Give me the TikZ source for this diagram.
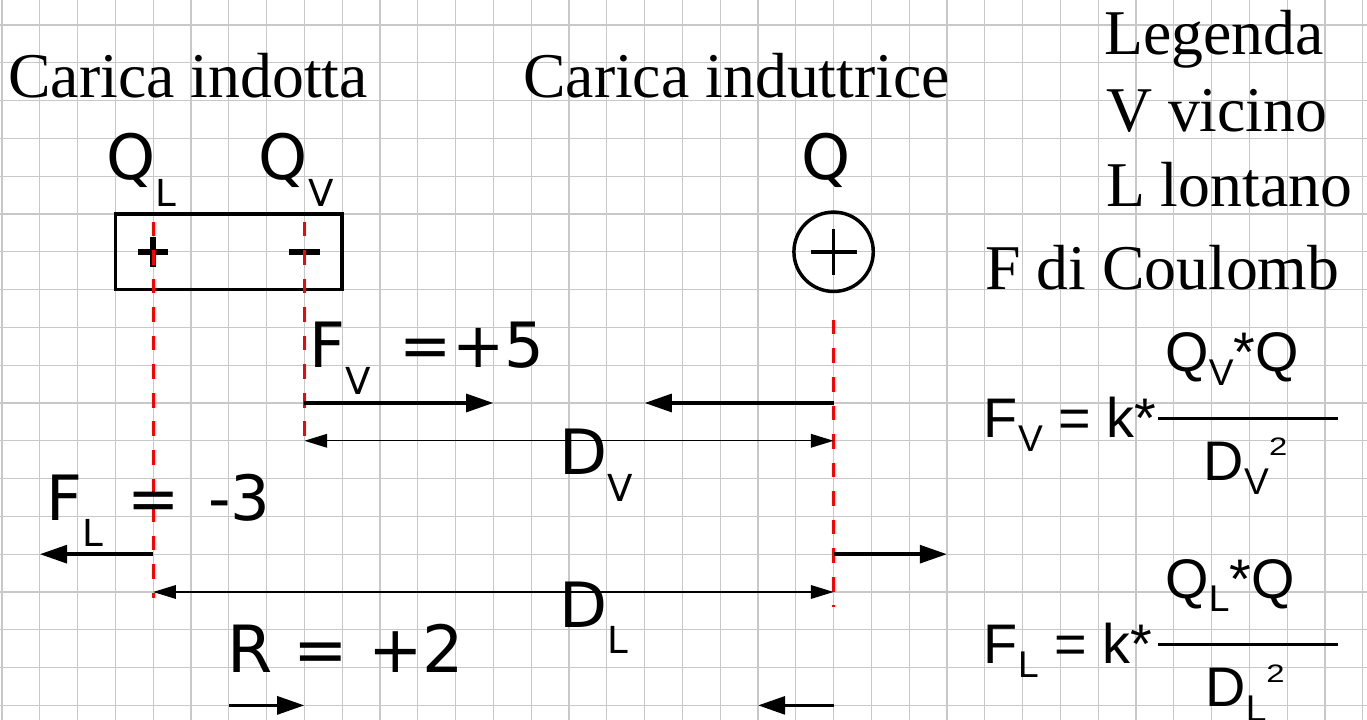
\documentclass[tikz,border=0pt]{standalone}
\usepackage{fontspec}
\usepackage{graphicx}
\setmainfont{Liberation Serif}
\newfontfamily\labelfont{DejaVu Sans}
\newfontfamily\formulafont{Liberation Sans}
\usetikzlibrary{arrows.meta}
\definecolor{gridGray}{RGB}{200,200,200}
\definecolor{guideRed}{RGB}{255,0,0}
\newcommand{\lowsub}[2][20pt]{\raisebox{-#1}{\fontsize{28}{30}\selectfont #2}}
\newcommand{\highsup}[1]{\raisebox{18.5pt}{\scalebox{1.3}[1]{\fontsize{19}{21}\selectfont #1}}}
\tikzset{
  gridline/.style={gridGray, line width=1pt},
  title/.style={anchor=base west, inner sep=0pt, font=\fontsize{48}{57}\selectfont},
  qtext/.style={anchor=base west, inner sep=0pt, font=\labelfont\fontsize{47}{56}\selectfont},
  formula/.style={anchor=base west, inner sep=0pt, font=\formulafont\fontsize{42}{50}\selectfont},
  signline/.style={line width=4.2pt},
  chargebox/.style={rectangle, draw, line width=2.6pt, minimum width=6cm, minimum height=2cm},
  charge/.style={circle, draw, line width=2.6pt, minimum size=2.1cm},
  guide/.style={guideRed, line width=2pt, dash pattern=on 11pt off 10.5pt},
  force/.style={-{Triangle[length=7.2mm,width=4.7mm]}, line width=2.8pt},
  span/.style={{Triangle[length=6mm,width=3.6mm]}-{Triangle[length=6mm,width=3.6mm]}, line width=1pt},
  bar/.style={line width=2.2pt},
}
\begin{document}
\begin{tikzpicture}
  \useasboundingbox (-0.053,0.661) rectangle (36.111,-18.386);
  \fill[white] (-0.053,0.661) rectangle (36.111,-18.386);
  \draw[gridline] (-0.053,0.661) grid (36.111,-18.386);

  % titoli e legenda
  \node[title] (indotta) at (0.16,-1.93) {Carica indotta};
  \node[title] (induttrice) at (13.78,-1.93) {Carica induttrice};
  \node[title] (legenda) at (29.15,-0.79) {Legenda};
  \node[title] (vicino) at (29.2,-2.83) {V vicino};
  \node[title] (lontano) at (29.2,-4.81) {L lontano};
  \node[title] (coulomb) at (26.0,-7.01) {F di Coulomb};

  % cariche
  \node[chargebox] (box) at (6,-6) {};
  \coordinate (plusL) at (4,-6);
  \coordinate (minusV) at (8,-6);
  \draw[signline] ([xshift=-4mm]plusL) -- ([xshift=4mm]plusL)
    ([yshift=-4mm]plusL) -- ([yshift=4mm]plusL);
  \draw[signline] ([xshift=-4mm]minusV) -- ([xshift=4mm]minusV);
  \node[charge] (q) at (22,-6) {};
  \draw[line width=2.6pt] ([xshift=-6.1mm]q.center) -- ([xshift=6.1mm]q.center)
    ([yshift=-6.1mm]q.center) -- ([yshift=6.1mm]q.center);
  \node[qtext] (qL) at (2.76,-4.10) {Q\lowsub{L}};
  \node[qtext] (qV) at (6.79,-4.10) {Q\lowsub{V}};
  \node[qtext] (qQ) at (21.15,-4.10) {Q};

  % linee di riferimento
  \coordinate (lTop) at (4,-5.2);  \coordinate (lEnd) at (4,-15.15);
  \coordinate (vTop) at (8,-5.2);  \coordinate (vEnd) at (8,-11);
  \coordinate (qTop) at (22,-7.8); \coordinate (qEnd) at (22,-15.4);
  \draw[guide] (lTop) -- (lEnd);
  \draw[guide] (vTop) -- (vEnd);
  \draw[guide] (qTop) -- (qEnd);

  % forze
  \coordinate (fvS) at (8,-10);   \coordinate (fvE) at (13,-10);
  \coordinate (fqvS) at (22,-10); \coordinate (fqvE) at (17,-10);
  \coordinate (flS) at (4,-14);   \coordinate (flE) at (1,-14);
  \coordinate (fqlS) at (22,-14); \coordinate (fqlE) at (25,-14);
  \coordinate (rS) at (6,-18);    \coordinate (rE) at (8,-18);
  \coordinate (rqS) at (22,-18);  \coordinate (rqE) at (20,-18);
  \draw[force] (fvS) -- (fvE);
  \draw[force] (fqvS) -- (fqvE);
  \draw[force] (flS) -- (flE);
  \draw[force] (fqlS) -- (fqlE);
  \draw[force] (rS) -- (rE);
  \draw[force] (rqS) -- (rqE);

  % distanze
  \coordinate (dvS) at (8,-11); \coordinate (dvE) at (22,-11);
  \coordinate (dlS) at (4,-15); \coordinate (dlE) at (22,-15);
  \draw[span] (dvS) -- (dvE);
  \draw[span] (dlS) -- (dlE);

  \node[qtext] (fv) at (8.12,-9.07) {F\lowsub{V} \kern7pt=+5};
  \node[qtext] (fl) at (1.16,-13.10) {F\lowsub{L} \kern4pt= \kern6pt-3};
  \node[qtext, font=\labelfont\fontsize{49}{56}\selectfont] (r) at (5.95,-17.12) {R = +2};
  \node[qtext] (dv) at (14.74,-11.90) {D\lowsub{V}};
  \node[qtext] (dl) at (14.74,-15.93) {D\lowsub{L}};

  % formule
  \node[formula] (fvLhs) at (25.97,-10.90) {F\lowsub[11pt]{V} = k*};
  \node[formula] (fvNum) at (30.77,-9.18) {Q\lowsub[10pt]{V}*Q};
  \node[formula] (fvDen) at (31.79,-12.04) {D\lowsub[11pt]{V}\highsup{2}};
  \coordinate (fvBarS) at (30.58,-10.40); \coordinate (fvBarE) at (35.34,-10.40);
  \draw[bar] (fvBarS) -- (fvBarE);
  \node[formula] (flLhs) at (25.97,-16.88) {F\lowsub[11pt]{L} = k*};
  \node[formula] (flNum) at (30.77,-15.16) {Q\lowsub[10pt]{L}*Q};
  \node[formula] (flDen) at (31.83,-18.04) {D\lowsub[11pt]{L}\highsup{2}};
  \coordinate (flBarS) at (30.58,-16.40); \coordinate (flBarE) at (35.34,-16.40);
  \draw[bar] (flBarS) -- (flBarE);
\end{tikzpicture}
\end{document}
